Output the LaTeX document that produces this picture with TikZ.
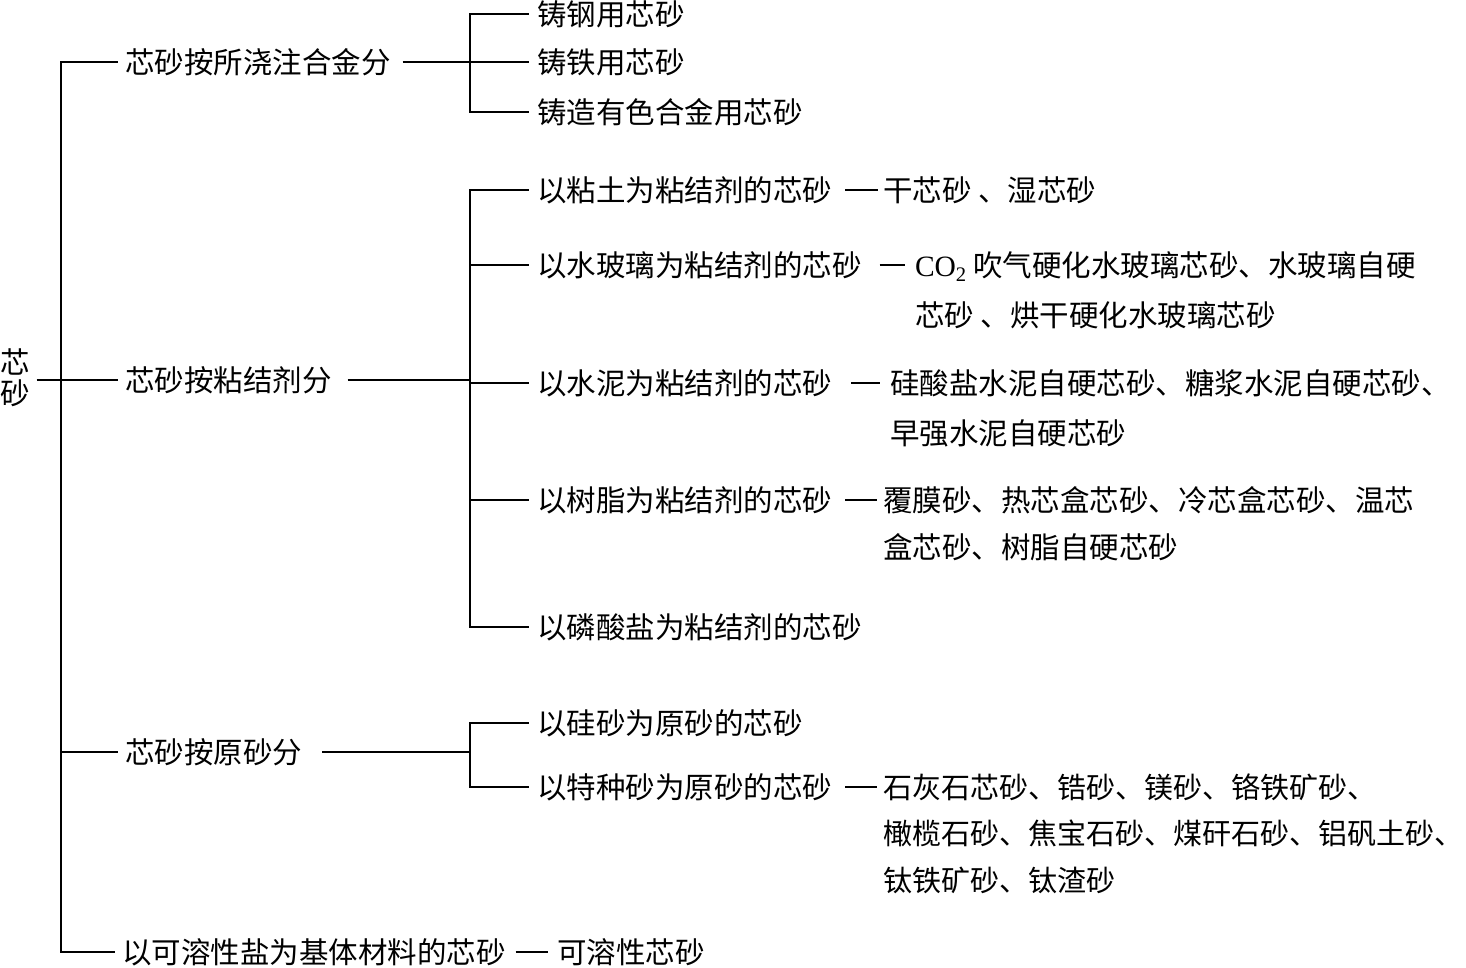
\documentclass[tikz,border=0pt]{standalone}
\usepackage{fontspec}
\setmainfont{Noto Sans CJK SC}
\newfontfamily\latin{Liberation Serif}
\tikzstyle{item}=[anchor=west,inner sep=0pt,outer sep=0pt,font=\fontsize{29.5}{48}\selectfont]
\tikzstyle{list}=[item,anchor=north west,align=left]
\tikzstyle{tree}=[line width=2.4pt]
\tikzstyle{link}=[line width=1.4pt]
\begin{document}
\begin{tikzpicture}[x=1pt,y=-1pt,tree]
\useasboundingbox (0,0) rectangle (1466,968);
\node[item,align=center,font=\fontsize{29.5}{31}\selectfont] (root) at (1,378) {芯\\砂};
% first level
\node[item] (A) at (125,62) {芯砂按所浇注合金分};
\node[item] (B) at (125,380) {芯砂按粘结剂分};
\node[item] (C) at (125,752) {芯砂按原砂分};
\node[item] (D) at (122,952) {以可溶性盐为基体材料的芯砂};
\node[item] (Dx) at (557,952) {可溶性芯砂};
% second level
\node[item] (A1) at (537,14) {铸钢用芯砂};
\node[item] (A2) at (537,62) {铸铁用芯砂};
\node[item] (A3) at (537,112) {铸造有色合金用芯砂};
\node[item] (B1) at (537,190) {以粘土为粘结剂的芯砂};
\node[item] (B2) at (537,265) {以水玻璃为粘结剂的芯砂};
\node[item] (B3) at (537,383) {以水泥为粘结剂的芯砂};
\node[item] (B4) at (537,500) {以树脂为粘结剂的芯砂};
\node[item] (B5) at (537,627) {以磷酸盐为粘结剂的芯砂};
\node[item] (C1) at (537,723) {以硅砂为原砂的芯砂};
\node[item] (C2) at (537,787) {以特种砂为原砂的芯砂};
% lists
\node[item] (B1x) at (883,190) {干芯砂 、湿芯砂};
\node[list,font=\fontsize{29.5}{50}\selectfont] (B2x) at (B2.north -| 915,0) {{\latin CO\textsubscript{2}} 吹气硬化水玻璃芯砂、水玻璃自硬\\芯砂 、烘干硬化水玻璃芯砂};
\node[list,font=\fontsize{29.5}{50}\selectfont] (B3x) at (B3.north -| 890,0) {硅酸盐水泥自硬芯砂、糖浆水泥自硬芯砂、\\早强水泥自硬芯砂};
\node[list,font=\fontsize{29.5}{47}\selectfont] (B4x) at (B4.north -| 883,0) {覆膜砂、热芯盒芯砂、冷芯盒芯砂、温芯\\盒芯砂、树脂自硬芯砂};
\node[list,font=\fontsize{29}{46.5}\selectfont] (C2x) at (C2.north -| 883,0) {石灰石芯砂、锆砂、镁砂、铬铁矿砂、\\橄榄石砂、焦宝石砂、煤矸石砂、铝矾土砂、\\钛铁矿砂、钛渣砂};
% junctions
\coordinate (J) at (61,380);
\coordinate (JA) at (470,62);
\coordinate (JB) at (470,380);
\coordinate (JC) at (470,752);
% tree lines
\draw[shorten <=6pt] (root.east |- J) -- (J);
\foreach \n in {A,B,C,D} \draw[shorten >=7pt] (J) |- (\n.west);
\draw[shorten <=12pt] (A.east) -- (JA);
\draw[shorten <=16pt] (B.east) -- (JB);
\draw[shorten <=20pt] (C.east) -- (JC);
\foreach \n in {A1,A2,A3} \draw[shorten >=8pt] (JA) |- (\n.west);
\foreach \n in {B1,B2,B3,B4,B5} \draw[shorten >=8pt] (JB) |- (\n.west);
\foreach \n in {C1,C2} \draw[shorten >=8pt] (JC) |- (\n.west);
% dashes
\draw[link] ([xshift=13pt]B1.east) -- ([xshift=-5pt]B1x.west);
\draw[link] ([xshift=18pt]B2.east) -- ([xshift=-10pt]B2.east -| B2x.west);
\draw[link] ([xshift=19pt]B3.east) -- ([xshift=-10pt]B3.east -| B3x.west);
\draw[link] ([xshift=13pt]B4.east) -- ([xshift=-6pt]B4.east -| B4x.west);
\draw[link] ([xshift=13pt]C2.east) -- ([xshift=-6pt]C2.east -| C2x.west);
\draw[link] ([xshift=10pt]D.east) -- ([xshift=-9pt]Dx.west);
\end{tikzpicture}
\end{document}
